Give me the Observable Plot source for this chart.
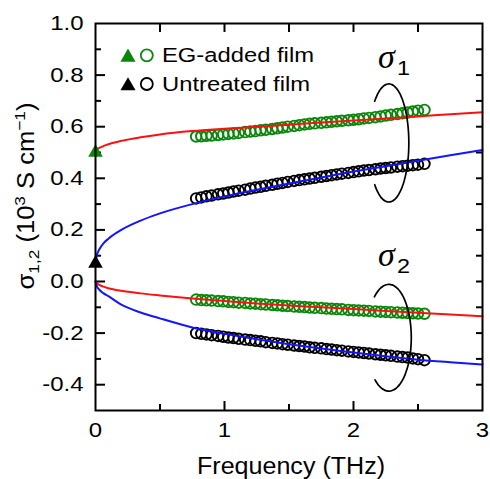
<!DOCTYPE html>
<html><head><meta charset="utf-8">
<script src="https://cdn.jsdelivr.net/npm/d3@7"></script>
<script src="https://cdn.jsdelivr.net/npm/@observablehq/plot@0.6"></script>
<style>body{margin:0;background:#fff}#chart{width:490px;height:479px}</style>
</head><body><div id="chart"></div>
<script>
// ---- measured data (THz, 10^3 S/cm) ----
const freq = [0.78,0.82,0.86,0.90,0.95,0.99,1.03,1.07,1.11,1.16,1.20,1.24,1.28,1.32,1.37,1.41,1.45,1.49,1.54,1.58,1.62,1.66,1.70,1.75,1.79,1.83,1.87,1.91,1.96,2.00,2.04,2.08,2.12,2.17,2.21,2.25,2.29,2.34,2.38,2.42,2.46,2.50,2.55];
const egSigma1 = [0.562,0.563,0.565,0.566,0.568,0.570,0.572,0.574,0.576,0.579,0.581,0.583,0.586,0.588,0.591,0.594,0.597,0.600,0.603,0.606,0.609,0.611,0.613,0.615,0.617,0.619,0.621,0.623,0.625,0.627,0.629,0.632,0.634,0.637,0.640,0.643,0.646,0.649,0.652,0.655,0.659,0.662,0.665];
const unSigma1 = [0.322,0.326,0.330,0.333,0.338,0.341,0.345,0.349,0.352,0.356,0.360,0.364,0.367,0.371,0.375,0.379,0.382,0.386,0.390,0.393,0.396,0.399,0.402,0.406,0.409,0.412,0.415,0.418,0.421,0.424,0.427,0.430,0.432,0.435,0.438,0.440,0.442,0.445,0.447,0.449,0.451,0.453,0.456];
const egSigma2 = [-0.070,-0.072,-0.073,-0.074,-0.076,-0.077,-0.079,-0.080,-0.082,-0.083,-0.085,-0.086,-0.088,-0.089,-0.091,-0.092,-0.094,-0.095,-0.097,-0.098,-0.099,-0.101,-0.102,-0.103,-0.105,-0.106,-0.107,-0.108,-0.110,-0.111,-0.112,-0.113,-0.114,-0.116,-0.117,-0.118,-0.119,-0.120,-0.121,-0.122,-0.123,-0.124,-0.125];
const unSigma2 = [-0.200,-0.203,-0.205,-0.208,-0.211,-0.214,-0.217,-0.219,-0.222,-0.225,-0.227,-0.230,-0.232,-0.235,-0.238,-0.240,-0.243,-0.245,-0.248,-0.250,-0.252,-0.255,-0.257,-0.259,-0.262,-0.264,-0.266,-0.268,-0.271,-0.273,-0.275,-0.277,-0.279,-0.282,-0.284,-0.286,-0.288,-0.291,-0.293,-0.295,-0.298,-0.301,-0.305];

// fitted curves
const fitFreq = [0,0.01,0.03,0.06,0.1,0.2,0.35,0.5,0.75,1,1.25,1.5,1.75,2,2.25,2.5,2.75,3];
const egFit1 = [0.508,0.513,0.518,0.525,0.532,0.545,0.559,0.570,0.583,0.592,0.600,0.608,0.616,0.624,0.632,0.640,0.648,0.656];
const unFit1 = [0.07,0.10,0.125,0.147,0.166,0.20,0.236,0.264,0.30,0.33,0.356,0.38,0.403,0.426,0.447,0.468,0.489,0.51];
const egFit2 = [0,-0.006,-0.013,-0.02,-0.026,-0.036,-0.046,-0.054,-0.066,-0.076,-0.085,-0.093,-0.10,-0.107,-0.114,-0.121,-0.128,-0.135];
const unFit2 = [0,-0.018,-0.032,-0.045,-0.057,-0.09,-0.12,-0.143,-0.178,-0.203,-0.224,-0.243,-0.26,-0.275,-0.29,-0.303,-0.313,-0.322];

// DC conductivity (triangles at 0 THz)
const dcFreq = [0];
const egDC = [0.5];
const unDC = [0.07];

// ticks and labels
const xTickLabels = [0,1,2,3];
const xMinorTicks = [0.5,1.5,2.5];
const xMajorTicks = [1,2];
const xTopTicks = [0.5,1,1.5,2,2.5];
const yTickLabels = [-0.4,-0.2,0.0,0.2,0.4,0.6,0.8,1.0];
const yMajorTicks = [-0.4,-0.2,0.0,0.2,0.4,0.6,0.8];
const yMinorTicks = [-0.3,-0.1,0.1,0.3,0.5,0.7,0.9];
const yRightTicks = [-0.4,-0.3,-0.2,-0.1,0.0,0.1,0.2,0.3,0.4,0.5,0.6,0.7,0.8,0.9];
const legendNames = ["EG-added film","Untreated film"];
const xLabel = "Frequency (THz)";

// annotations: rings around σ1 and σ2 groups
const ringNames = ["σ","σ"];
const ringSubs = ["1","2"];
const ringLabelX = [2.19, 2.19];
const ringLabelY = [0.826, 0.062];
const ringCx = [2.274, 2.274];
const ringCy = [0.537, -0.218];
const ringRx = [0.155, 0.174];
const ringRy = [0.229, 0.207];
const ringGap = [135, 130];

const GREEN = "#0a870a", RED = "#ff1010", BLUE = "#1414ff";

const pts = (ys) => freq.map((f,i) => ({f, v: ys[i]}));
const fit = (ys) => fitFreq.map((f,i) => ({f, v: ys[i]}));
const dc = (ys) => dcFreq.map((f,i) => ({f, v: ys[i]}));
const rings = ringCx.map((cx,k) => d3.range(-ringGap[k], ringGap[k]+0.1, 3).map(a => {
  const t = a*Math.PI/180;
  return {k, x: cx + ringRx[k]*Math.cos(t), y: ringCy[k] - ringRy[k]*Math.sin(t)};
}));
const ringLabels = ringNames.map((n,i) => ({name:n, sub:ringSubs[i], x:ringLabelX[i], y:ringLabelY[i]}));

const FONT = "'Liberation Sans', Arial, sans-serif";
const rowY = [31.8, 60.5];
const legendColors = [GREEN, "#000"];

const marks = [
  // inward ticks
  Plot.axisY(yMajorTicks, {anchor:"left", tickSize:-10, strokeWidth:2, tickFormat:()=>"", label:null}),
  Plot.axisY(yMinorTicks, {anchor:"left", tickSize:-6, strokeWidth:2, tickFormat:()=>"", label:null}),
  Plot.axisY(yRightTicks, {anchor:"right", tickSize:-7, strokeWidth:2, tickFormat:()=>"", label:null}),
  Plot.axisX(xMajorTicks, {anchor:"bottom", tickSize:-9, strokeWidth:2, tickFormat:()=>"", label:null}),
  Plot.axisX(xMinorTicks, {anchor:"bottom", tickSize:-6, strokeWidth:2, tickFormat:()=>"", label:null}),
  Plot.axisX(xTopTicks, {anchor:"top", tickSize:-8, strokeWidth:2, tickFormat:()=>"", label:null}),
  // tick labels
  Plot.axisY(yTickLabels, {anchor:"left", tickSize:0, tickPadding:12, tickFormat:d=>d.toFixed(1), fontSize:20.5, label:null}),
  Plot.axisX(xTickLabels, {anchor:"bottom", tickSize:0, tickPadding:12, tickFormat:d=>String(d), fontSize:20.5, label:null}),
  // data circles
  Plot.dot(pts(egSigma1), {x:"f", y:"v", r:5.3, stroke:GREEN, strokeWidth:1.9, fill:"none"}),
  Plot.dot(pts(unSigma1), {x:"f", y:"v", r:5.3, stroke:"#000", strokeWidth:1.9, fill:"none"}),
  Plot.dot(pts(egSigma2), {x:"f", y:"v", r:5.3, stroke:GREEN, strokeWidth:1.9, fill:"none"}),
  Plot.dot(pts(unSigma2), {x:"f", y:"v", r:5.3, stroke:"#000", strokeWidth:1.9, fill:"none"}),
  // fits
  Plot.line(fit(egFit1), {x:"f", y:"v", stroke:RED, strokeWidth:2, curve:"monotone-x"}),
  Plot.line(fit(unFit1), {x:"f", y:"v", stroke:BLUE, strokeWidth:2, curve:"monotone-x"}),
  Plot.line(fit(egFit2), {x:"f", y:"v", stroke:RED, strokeWidth:2, curve:"monotone-x"}),
  Plot.line(fit(unFit2), {x:"f", y:"v", stroke:BLUE, strokeWidth:2, curve:"monotone-x"}),
  // DC triangles
  Plot.dot(dc(egDC), {x:"f", y:"v", symbol:"triangle", r:5.4, fill:GREEN, stroke:"none", clip:false}),
  Plot.dot(dc(unDC), {x:"f", y:"v", symbol:"triangle", r:5.4, fill:"#000", stroke:"none", clip:false}),
  // rings and labels
  ...rings.map(r => Plot.line(r, {x:"x", y:"y", stroke:"#000", strokeWidth:1.7, curve:"basis"})),
  Plot.text(ringLabels, {x:"x", y:"y", text:"name", fontFamily:"'Liberation Serif', 'Times New Roman', serif", fontStyle:"italic", fontSize:34, textAnchor:"start", lineAnchor:"bottom"}),
  Plot.text(ringLabels, {x:"x", y:"y", text:"sub", dx:19, dy:7, fontSize:20, textAnchor:"start", lineAnchor:"bottom"}),
  // legend
  ...legendNames.flatMap((name,i) => [
    Plot.dot([name], {frameAnchor:"top-left", dx:32.5, dy:rowY[i]+2, symbol:"triangle", r:5.6, fill:legendColors[i], stroke:"none"}),
    Plot.dot([name], {frameAnchor:"top-left", dx:51.3, dy:rowY[i], r:6, stroke:legendColors[i], strokeWidth:1.8, fill:"none"}),
    Plot.text([name], {frameAnchor:"top-left", dx:66.5, dy:rowY[i], text:d=>d, textAnchor:"start", lineAnchor:"middle", fontSize:20.5})
  ]),
  // x axis title
  Plot.text([xLabel], {frameAnchor:"bottom", dx:2, dy:56, text:d=>d, lineAnchor:"middle", fontSize:23}),
  Plot.frame({stroke:"#000", strokeWidth:2})
];

const svgEl = Plot.plot({
  width:490, height:479,
  marginLeft:95, marginRight:8, marginTop:23, marginBottom:69,
  x:{domain:[0,3]},
  y:{domain:[-0.5,1.0]},
  style:{fontFamily:FONT, fontSize:"20px", background:"#fff", color:"#000"},
  marks
});
document.getElementById("chart").appendChild(svgEl);

const svg = d3.select(svgEl);

// horizontally widen sans text to match the wide face of the original
svg.selectAll("text").each(function(){
  const txt = this.textContent;
  if (ringNames.includes(txt) || txt === "") return;
  const f = legendNames.includes(txt) ? 1.16 : txt === xLabel ? 1.09 : 1.17;
  const len = this.getComputedTextLength();
  if (len > 0) { this.setAttribute("textLength", len*f); this.setAttribute("lengthAdjust","spacingAndGlyphs"); }
});

// y axis title with sub/superscripts
const yt = svg.append("text")
  .attr("transform","translate(34,196) rotate(-90)")
  .attr("text-anchor","middle")
  .attr("font-family",FONT).attr("font-size",23).attr("fill","#000");
yt.append("tspan").text("σ");
yt.append("tspan").attr("font-size",15.5).attr("dy",5).text("1,2");
yt.append("tspan").attr("dy",-5).text(" (10");
yt.append("tspan").attr("font-size",15.5).attr("dy",-9).text("3");
yt.append("tspan").attr("dy",9).text(" S cm");
yt.append("tspan").attr("font-size",15.5).attr("dy",-9).text("−1");
yt.append("tspan").attr("dy",9).text(")");
yt.attr("textLength",187).attr("lengthAdjust","spacingAndGlyphs");
</script>
</body></html>
